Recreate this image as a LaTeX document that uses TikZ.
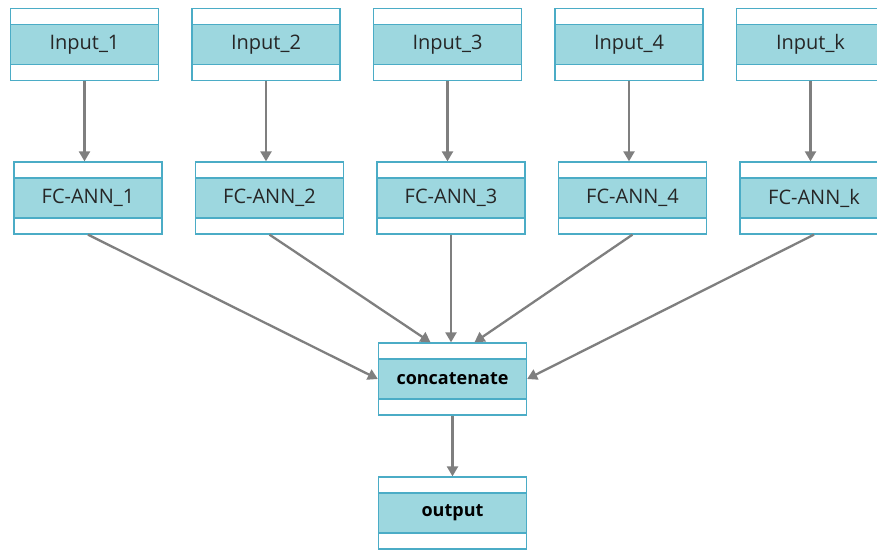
\documentclass[tikz,border=0pt]{standalone}
\usepackage{fontspec}
\setmainfont{Open Sans}
\usetikzlibrary{arrows.meta}
\definecolor{boxline}{HTML}{4BACC6}
\definecolor{boxband}{HTML}{9DD7DF}
\definecolor{linkgray}{HTML}{7F7F7F}
\tikzset{
	layer/.style={draw=boxline, line width=1.3bp, fill=white, minimum width=148bp, minimum height=72bp, inner sep=0pt,
		font=\fontsize{20bp}{23bp}\selectfont, text=black!85,
		path picture={
			\fill[boxband] ([yshift=-16bp]path picture bounding box.north west) rectangle ([yshift=16bp]path picture bounding box.south east);
			\draw[boxline, line width=1.3bp] ([yshift=-16bp]path picture bounding box.north west) -- ([yshift=-16bp]path picture bounding box.north east);
			\draw[boxline, line width=1.3bp] ([yshift=16bp]path picture bounding box.south west) -- ([yshift=16bp]path picture bounding box.south east);
		}},
	boldlayer/.style={layer, font=\fontsize{18bp}{21bp}\selectfont\bfseries, text=black},
	link/.style={draw=linkgray, line width=2.3bp, -{Triangle[length=10bp,width=11bp]}}
}
\begin{document}
\begin{tikzpicture}[x=1bp, y=1bp]
		\useasboundingbox (0,0) rectangle (877,550);
		\clip (0,0) rectangle (877,550);
		% input and fc layers
		\foreach \i/\n in {1/1, 2/2, 3/3, 4/4, 5/k}{
			\node[layer] (in\i) at ({84.5+181.5*(\i-1)},505.5) {Input\_\n};
			\node[layer] (fc\i) at ({88+181.5*(\i-1)},352) {FC-ANN\_\n};
			\draw[link] (in\i.south) -- (in\i.south |- fc\i.north);
		}
		
		\node[boldlayer] (cat) at (452.5,171) {concatenate};
		\node[boldlayer] (out) at (452.5,37) {output};
		
		\draw[link] (fc1.south) -- (cat.west);
		\draw[link] (fc2.south) -- ([xshift=-22bp]cat.north);
		\draw[link] (fc3.south) -- (fc3.south |- cat.north);
		\draw[link] (fc4.south) -- ([xshift=22bp]cat.north);
		\draw[link] (fc5.south) -- (cat.east);
		\draw[link] (cat.south) -- (out.north);
\end{tikzpicture}
\end{document}
